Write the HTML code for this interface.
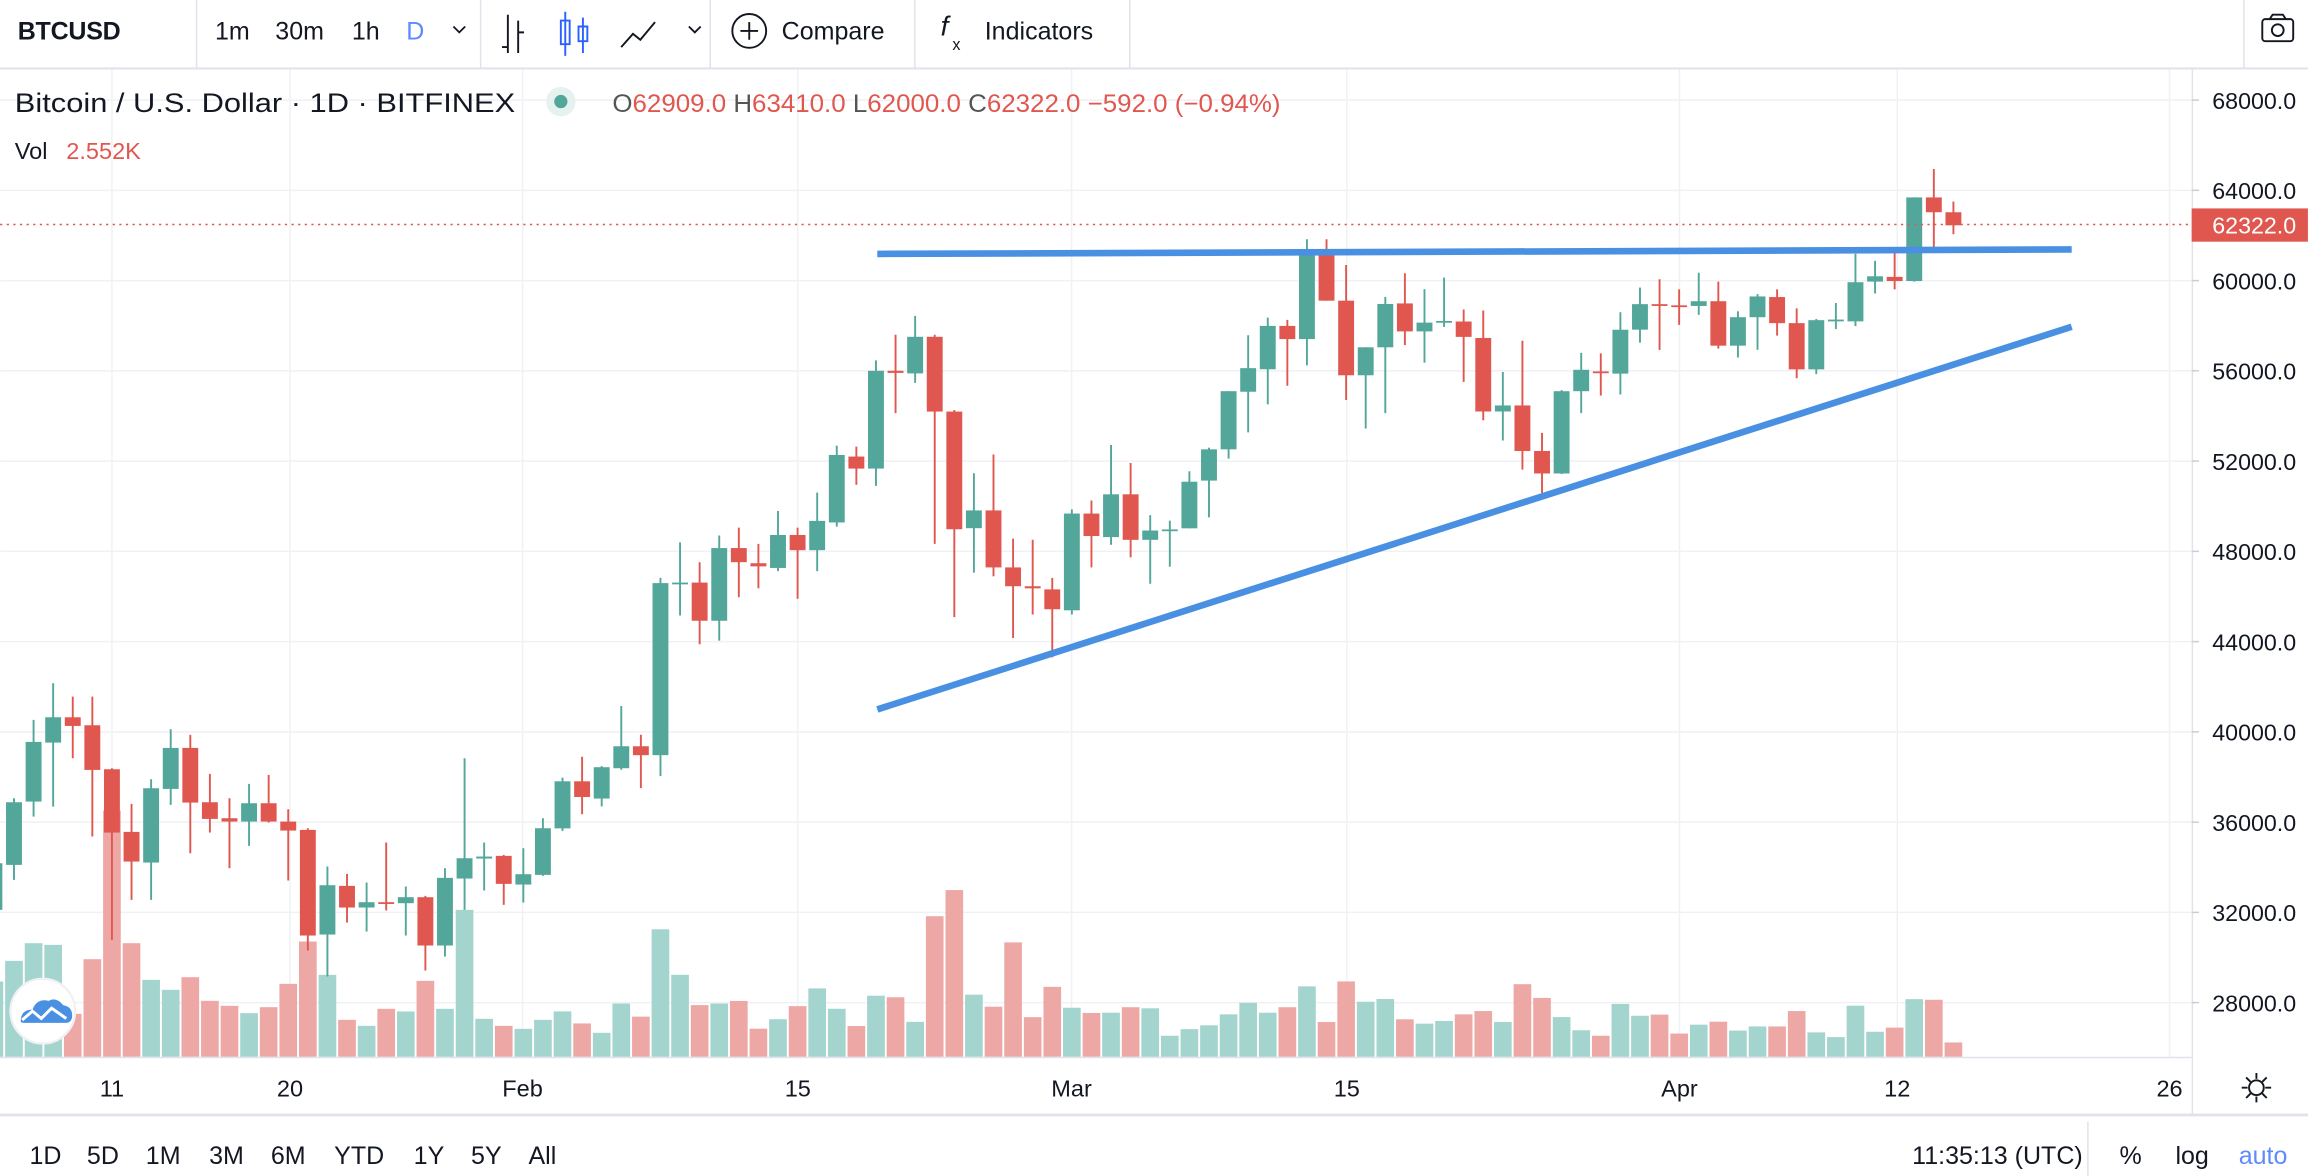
<!DOCTYPE html>
<html><head><meta charset="utf-8"><style>
html,body{margin:0;padding:0;background:#fff;}
svg{display:block;}
text{font-family:"Liberation Sans",sans-serif;}
</style></head><body>
<svg id="s" xmlns="http://www.w3.org/2000/svg" width="2308" height="1176" viewBox="0 0 1568 799">
<rect width="1568" height="799" fill="#fff"/>
<g id="grid" stroke="#f0f1f4" stroke-width="1"></g>
<g id="vol"></g>
<g id="cdl"></g>
<line x1="596" y1="172.5" x2="1407.5" y2="169.5" stroke="#4a90e2" stroke-width="4.5"/>
<line x1="596" y1="482" x2="1407.5" y2="222" stroke="#4a90e2" stroke-width="4.5"/>
<line x1="0" y1="152.5" x2="1489" y2="152.5" stroke="#e0574f" stroke-width="1" stroke-dasharray="1.5,3"/>
<line x1="0" y1="46.5" x2="1568" y2="46.5" stroke="#e0e3eb" stroke-width="1.5"/>
<g stroke="#e0e3eb" stroke-width="1">
<line x1="133.5" y1="0" x2="133.5" y2="46"/><line x1="326.5" y1="0" x2="326.5" y2="46"/>
<line x1="482.5" y1="0" x2="482.5" y2="46"/><line x1="621.5" y1="0" x2="621.5" y2="46"/>
<line x1="767.5" y1="0" x2="767.5" y2="46"/><line x1="1524.5" y1="0" x2="1524.5" y2="46"/>
</g>
<text x="12" y="27" font-size="17" font-weight="bold" fill="#131722" textLength="70">BTCUSD</text>
<text x="146" y="27" font-size="17" fill="#131722">1m</text>
<text x="187" y="27" font-size="17" fill="#131722">30m</text>
<text x="239" y="27" font-size="17" fill="#131722">1h</text>
<text x="276" y="27" font-size="17" fill="#2962ff" opacity="0.75">D</text>
<path d="M308 18 l4 4 l4 -4" fill="none" stroke="#131722" stroke-width="1.2"/>
<g stroke="#131722" stroke-width="1.3" fill="none">
<path d="M345 10 v26 M341 32 h4 M352 14 v22 M352 22 h4"/>
<path d="M468 18 l4 4 l4 -4"/>
<path d="M422 32 l8 -9 l5 4 l10 -12" />
</g>
<g stroke="#2962ff" stroke-width="1.3" fill="none"><path d="M384 8 v30 M381 14 h6 v16 h-6z M396 12 v24 M393 18 h6 v10 h-6z"/></g>
<circle cx="509" cy="21" r="11.5" fill="none" stroke="#131722" stroke-width="1.3"/>
<path d="M509 15 v12 M503 21 h12" stroke="#131722" stroke-width="1.3"/>
<text x="531" y="27" font-size="17" fill="#131722">Compare</text>
<text x="639" y="24" font-size="19" font-style="italic" fill="#131722">f</text>
<text x="647" y="34" font-size="11" fill="#131722">x</text>
<text x="669" y="27" font-size="17" fill="#131722">Indicators</text>
<g stroke="#131722" stroke-width="1.3" fill="none"><rect x="1537" y="13" width="21" height="15" rx="2"/><circle cx="1547.5" cy="20.5" r="4"/><path d="M1542 13 l2 -3 h7 l2 3"/></g>
<text x="10" y="76" font-size="18" fill="#131722" textLength="340" lengthAdjust="spacingAndGlyphs">Bitcoin / U.S. Dollar · 1D · BITFINEX</text>
<circle cx="381" cy="69" r="10" fill="#e6f2f0"/><circle cx="381" cy="69" r="4.5" fill="#53a69a"/>
<text x="416" y="76" font-size="17" fill="#e0574f" textLength="454" lengthAdjust="spacingAndGlyphs"><tspan fill="#555">O</tspan>62909.0 <tspan fill="#555">H</tspan>63410.0 <tspan fill="#555">L</tspan>62000.0 <tspan fill="#555">C</tspan>62322.0 −592.0 (−0.94%)</text>
<text x="10" y="108" font-size="16" fill="#131722">Vol</text>
<text x="45" y="108" font-size="16" fill="#e0574f">2.552K</text>
<line x1="1489.5" y1="47" x2="1489.5" y2="757" stroke="#e0e3eb" stroke-width="1"/>
<g id="pax" font-size="16" fill="#131722"></g>
<rect x="1489" y="141.6" width="79" height="22.6" fill="#e0574f"/>
<text x="1503" y="158.5" font-size="16" fill="#fff" textLength="57" lengthAdjust="spacingAndGlyphs">62322.0</text>
<line x1="0" y1="718.5" x2="1489" y2="718.5" stroke="#e0e3eb" stroke-width="1"/>
<line x1="0" y1="757.5" x2="1568" y2="757.5" stroke="#e0e3eb" stroke-width="2"/>
<g id="tax" font-size="16" fill="#131722" text-anchor="middle"></g>
<g stroke="#131722" stroke-width="1.3" fill="none"><circle cx="1533" cy="739" r="5"/><path d="M1533 729v4M1533 745v4M1523 739h4M1539 739h4M1526 732l3 3M1537 743l3 3M1526 746l3-3M1537 735l3-3"/></g>
<g font-size="17" fill="#131722">
<text x="20" y="791">1D</text><text x="59" y="791">5D</text><text x="99" y="791">1M</text><text x="142" y="791">3M</text><text x="184" y="791">6M</text><text x="227" y="791">YTD</text><text x="281" y="791">1Y</text><text x="320" y="791">5Y</text><text x="359" y="791">All</text>
</g>
<text x="1415" y="791" font-size="17" fill="#131722" text-anchor="end">11:35:13 (UTC)</text>
<line x1="1418.5" y1="762" x2="1418.5" y2="799" stroke="#e0e3eb"/>
<text x="1440" y="791" font-size="17" fill="#131722">%</text>
<text x="1478" y="791" font-size="17" fill="#131722">log</text>
<text x="1521" y="791" font-size="17" fill="#2962ff" opacity="0.75">auto</text>
<circle cx="29" cy="687" r="22" fill="#fff" stroke="#eef0f3" stroke-width="1.5"/>
<path d="M14 694 q0 -8 8 -8 q3 -8 11 -6 q5 -3 10 3 q6 1 6 7 q0 5 -5 5 h-26 q-4 0 -4 -1z" fill="#4a90e2"/>
<path d="M15 693 l7 -6 l6 5 l7 -7 l10 7" stroke="#fff" stroke-width="2" fill="none"/>
</svg>
<script>
var NS="http://www.w3.org/2000/svg";
function el(p,t,a){var e=document.createElementNS(NS,t);for(var k in a)e.setAttribute(k,a[k]);p.appendChild(e);return e;}
function X(d){return 76+13.31*d;}
var T1=function(z){return 434.8+z*0.2264},T2=function(z){return 176.6+z*0.3553},T3=function(z){return 149.5+z*0.3727},T4=function(z){return 101.9+z*0.4029};
var C=[
[T1,[[-6,'g',670,810,640,830],[-5,'g',487,675,475,720],[-4,'g',306,485,240,530],[-3,'g',232,308,130,500],[-2,'r',232,258,170,355],[-1,'r',256,390,170,590],[0,'r',388,578,385,900],[1,'r',576,665,492,780],[2,'g',445,668,418,780],[3,'g',324,447,268,495],[4,'r',324,488,285,640],[5,'r',487,537,402,578],[6,'r',535,545,475,685],[7,'g',490,545,432,618],[8,'r',490,545,405,548],[9,'r',545,572,508,722],[10,'r',570,887,565,932],[11,'g',736,884,680,1010],[12,'r',738,803,702,848],[13,'g',787,803,728,875],[14,'r',787,792,608,812],[15,'g',772,790,740,887],[16,'r',772,917,768,992],[17,'g',714,917,685,950],[18,'g',655,716,355,810],[19,'g',650,656,608,752],[20,'r',648,732,645,795],[21,'g',703,734,625,788],[22,'g',565,705,535,708]]],
[T2,[[23,'g',997,1087,990,1092],[24,'r',997,1027,950,1060],[25,'g',970,1030,968,1045],[26,'g',930,972,853,975],[27,'r',930,947,908,1010],[28,'g',618,947,608,987],[29,'g',617,620,540,680],[30,'r',617,690,578,735],[31,'g',551,690,527,728],[32,'r',551,578,512,645],[33,'r',580,586,543,628],[34,'g',526,589,480,595],[35,'r',526,555,512,648],[36,'g',499,555,445,595],[37,'g',373,502,355,510],[38,'r',376,399,357,430],[39,'g',212,399,192,432],[40,'r',212,216,143,293],[41,'g',147,217,107,235],[42,'r',147,290,143,543],[43,'r',290,515,287,683],[44,'g',479,513,408,598],[45,'r',479,588,372,605],[46,'r',588,624,533,723],[47,'r',624,628,535,678],[48,'r',630,668,608,760],[49,'g',485,670,477,678],[50,'r',485,528,460,588]]],
[T3,[[51,'g',500,578,410,592],[52,'r',500,583,443,615],[53,'g',566,583,538,663],[54,'g',564,566,548,632],[55,'g',477,562,458,562],[56,'g',418,475,415,542],[57,'g',312,418,312,435],[58,'g',270,313,210,387],[59,'g',193,272,178,336],[60,'r',193,217,182,302],[61,'g',55,217,35,265],[62,'r',55,147,35,147],[63,'r',147,283,82,328],[64,'g',232,283,232,380],[65,'g',153,232,140,352],[66,'r',152,203,97,228],[67,'g',187,203,126,260],[68,'g',184,187,105,195],[69,'r',185,213,163,295],[70,'r',215,349,165,365],[71,'g',338,349,277,402],[72,'r',338,421,220,455],[73,'r',421,462,388,498],[74,'g',312,462,310,463],[75,'g',273,312,242,352],[76,'r',276,279,243,320],[77,'g',200,280,168,318]]],
[T4,[[78,'g',260,303,232,325],[79,'r',260,263,218,337],[80,'r',262,265,235,295],[81,'g',255,263,207,278],[82,'r',255,330,222,335],[83,'g',282,330,272,350],[84,'g',247,282,243,337],[85,'r',248,292,235,313],[86,'r',292,370,267,385],[87,'g',287,370,285,378],[88,'g',286,289,258,302],[89,'g',223,289,175,297],[90,'g',213,222,187,242],[91,'r',214,221,168,235],[92,'g',80,221,80,222],[93,'r',80,105,32,165],[94,'r',105,127,87,142]]]];
var V=[
[T1,[[-6,'g',1025],[-5,'g',963],[-4,'g',910],[-3,'g',915],[-2,'r',1122],[-1,'r',958],[0,'r',512],[1,'r',910],[2,'g',1020],[3,'g',1050],[4,'r',1012],[5,'r',1083],[6,'r',1098],[7,'g',1120],[8,'r',1102],[9,'r',1032],[10,'r',905],[11,'g',1005],[12,'r',1140],[13,'g',1158],[14,'r',1107],[15,'g',1115],[16,'r',1023],[17,'g',1107],[18,'g',810],[19,'g',1137],[20,'r',1158],[21,'g',1167],[22,'g',1140]]],
[T2,[[23,'g',1437],[24,'r',1460],[25,'g',1478],[26,'g',1422],[27,'r',1447],[28,'g',1280],[29,'g',1367],[30,'r',1425],[31,'g',1422],[32,'r',1417],[33,'r',1470],[34,'g',1452],[35,'r',1427],[36,'g',1393],[37,'g',1432],[38,'r',1465],[39,'g',1407],[40,'r',1410],[41,'g',1457],[42,'r',1255],[43,'r',1205],[44,'g',1405],[45,'r',1428],[46,'r',1305],[47,'r',1448],[48,'r',1390],[49,'g',1430],[50,'r',1440]]],
[T3,[[51,'g',1445],[52,'r',1435],[53,'g',1437],[54,'g',1487],[55,'g',1475],[56,'g',1468],[57,'g',1448],[58,'g',1427],[59,'g',1445],[60,'r',1435],[61,'g',1397],[62,'r',1462],[63,'r',1388],[64,'g',1425],[65,'g',1420],[66,'r',1457],[67,'g',1465],[68,'g',1460],[69,'r',1448],[70,'r',1442],[71,'g',1462],[72,'r',1393],[73,'r',1418],[74,'g',1453],[75,'g',1477],[76,'r',1487]]],
[T4,[[77,'g',1440],[78,'g',1460],[79,'r',1458],[80,'r',1490],[81,'g',1475],[82,'r',1470],[83,'g',1485],[84,'g',1478],[85,'r',1478],[86,'r',1452],[87,'g',1488],[88,'g',1496],[89,'g',1443],[90,'g',1487],[91,'r',1480],[92,'g',1432],[93,'r',1433],[94,'r',1505]]]];
var g=document.getElementById('grid'),cg=document.getElementById('cdl'),vg=document.getElementById('vol'),pax=document.getElementById('pax'),tax=document.getElementById('tax');
for(var i=0;i<11;i++){var p=68000-4000*i,y=68+(68000-p)/1000*15.33;el(g,'line',{x1:0,x2:1489,y1:y,y2:y});
 var t=el(pax,'text',{x:1503,y:y+6,textLength:57,lengthAdjust:'spacingAndGlyphs'});t.textContent=p+'.0';
 el(pax,'line',{x1:1489,x2:1494,y1:y,y2:y,stroke:'#c9ccd3'});}
var tl=[[76,'11'],[197,'20'],[355,'Feb'],[542,'15'],[728,'Mar'],[915,'15'],[1141,'Apr'],[1289,'12'],[1474,'26']];
tl.forEach(function(a){el(g,'line',{x1:a[0],x2:a[0],y1:47,y2:718});var t=el(tax,'text',{x:a[0],y:745});t.textContent=a[1];});
V.forEach(function(s){var T=s[0];s[1].forEach(function(v){var y=T(v[2]);el(vg,'rect',{x:X(v[0])-6,y:y,width:12,height:718-y,fill:v[1]=='g'?'#a3d4cd':'#eda8a6'});});});
C.forEach(function(s){var T=s[0];s[1].forEach(function(c){var col=c[1]=='g'?'#53a69a':'#e0574f',x=X(c[0]);
 el(cg,'line',{x1:x,x2:x,y1:T(c[4]),y2:T(c[5]),stroke:col,'stroke-width':1.3});
 var y1=T(c[2]),y2=T(c[3]);if(y2-y1<1.2)y2=y1+1.2;el(cg,'rect',{x:x-5.4,y:y1,width:10.8,height:y2-y1,fill:col});});});
</script>
</body></html>
